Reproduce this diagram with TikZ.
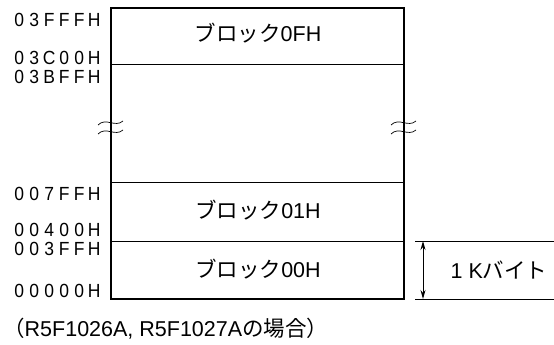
\documentclass[tikz,border=0pt]{standalone}
\usepackage{fontspec}
\usepackage{graphicx}
\setmainfont{Liberation Sans}
\newfontfamily\cjk{Noto Sans CJK JP}
\newcommand\adch[1]{\makebox[15pt]{\scalebox{0.92}[1]{#1}}}
\newcommand\adr[6]{\adch{#1}\adch{#2}\adch{#3}\adch{#4}\adch{#5}\adch{#6}}
\usetikzlibrary{arrows.meta}
\begin{document}
\begin{tikzpicture}[x=1pt,y=-1pt,
  addr/.style={anchor=base east,inner sep=0pt,font=\fontsize{19}{20}\selectfont},
  blk/.style={anchor=base,inner sep=0pt,font=\fontsize{21.5}{23}\selectfont},
  thin/.style={line width=1pt},
  thick/.style={line width=2pt}]
\useasboundingbox (0,0) rectangle (554,345);
% outer box
\coordinate (tl) at (111,8);
\coordinate (br) at (404,299);
\draw[thick] (tl) rectangle (br);
% inner lines
\coordinate (a1) at (111,65); \coordinate (b1) at (404,65);
\coordinate (a2) at (111,182); \coordinate (b2) at (404,182);
\coordinate (a3) at (111,241); \coordinate (b3) at (404,241);
\draw[thin] (a1) -- (b1);
\draw[thin] (a2) -- (b2);
\draw[thin] (a3) -- (b3);
% break marks
\foreach \xx in {111,404}{
  \draw[line width=0.7pt] (\xx-13,125) .. controls (\xx-5,117) and (\xx+4,128) .. (\xx+12,121);
  \draw[line width=0.7pt] (\xx-13,134) .. controls (\xx-5,126) and (\xx+4,137) .. (\xx+12,130);
}
% block labels
\node[blk] (k0f) at (258,42) {{\cjk ブロック}0FH};
\node[blk] (k01) at (258,218) {{\cjk ブロック}01H};
\node[blk] (k00) at (258,277) {{\cjk ブロック}00H};
% addresses
\node[addr] (ad1) at (102,27) {\adr 03FFFH};
\node[addr] (ad2) at (102,65) {\adr 03C00H};
\node[addr] (ad3) at (102,83) {\adr 03BFFH};
\node[addr] (ad4) at (102,200) {\adr 007FFH};
\node[addr] (ad5) at (102,236) {\adr 00400H};
\node[addr] (ad6) at (102,255) {\adr 003FFH};
\node[addr] (ad7) at (102,297) {\adr 00000H};
% dimension
\coordinate (d1) at (415,241); \coordinate (d2) at (554,241);
\coordinate (d3) at (415,299); \coordinate (d4) at (554,299);
\draw[thin] (d1) -- (d2);
\draw[thin] (d3) -- (d4);
\coordinate (u) at (423,241); \coordinate (v) at (423,299);
\draw[line width=1pt,{Stealth[length=9pt,width=5pt]}-{Stealth[length=9pt,width=5pt]}] (u) -- (v);
\node[blk] (kb) at (499,278) {1 K{\cjk バイト}};
% footer
\node[blk,anchor=base west] (ft) at (3,336) {{\cjk （}R5F1026A, R5F1027A{\cjk の場合）}};
\end{tikzpicture}
\end{document}
